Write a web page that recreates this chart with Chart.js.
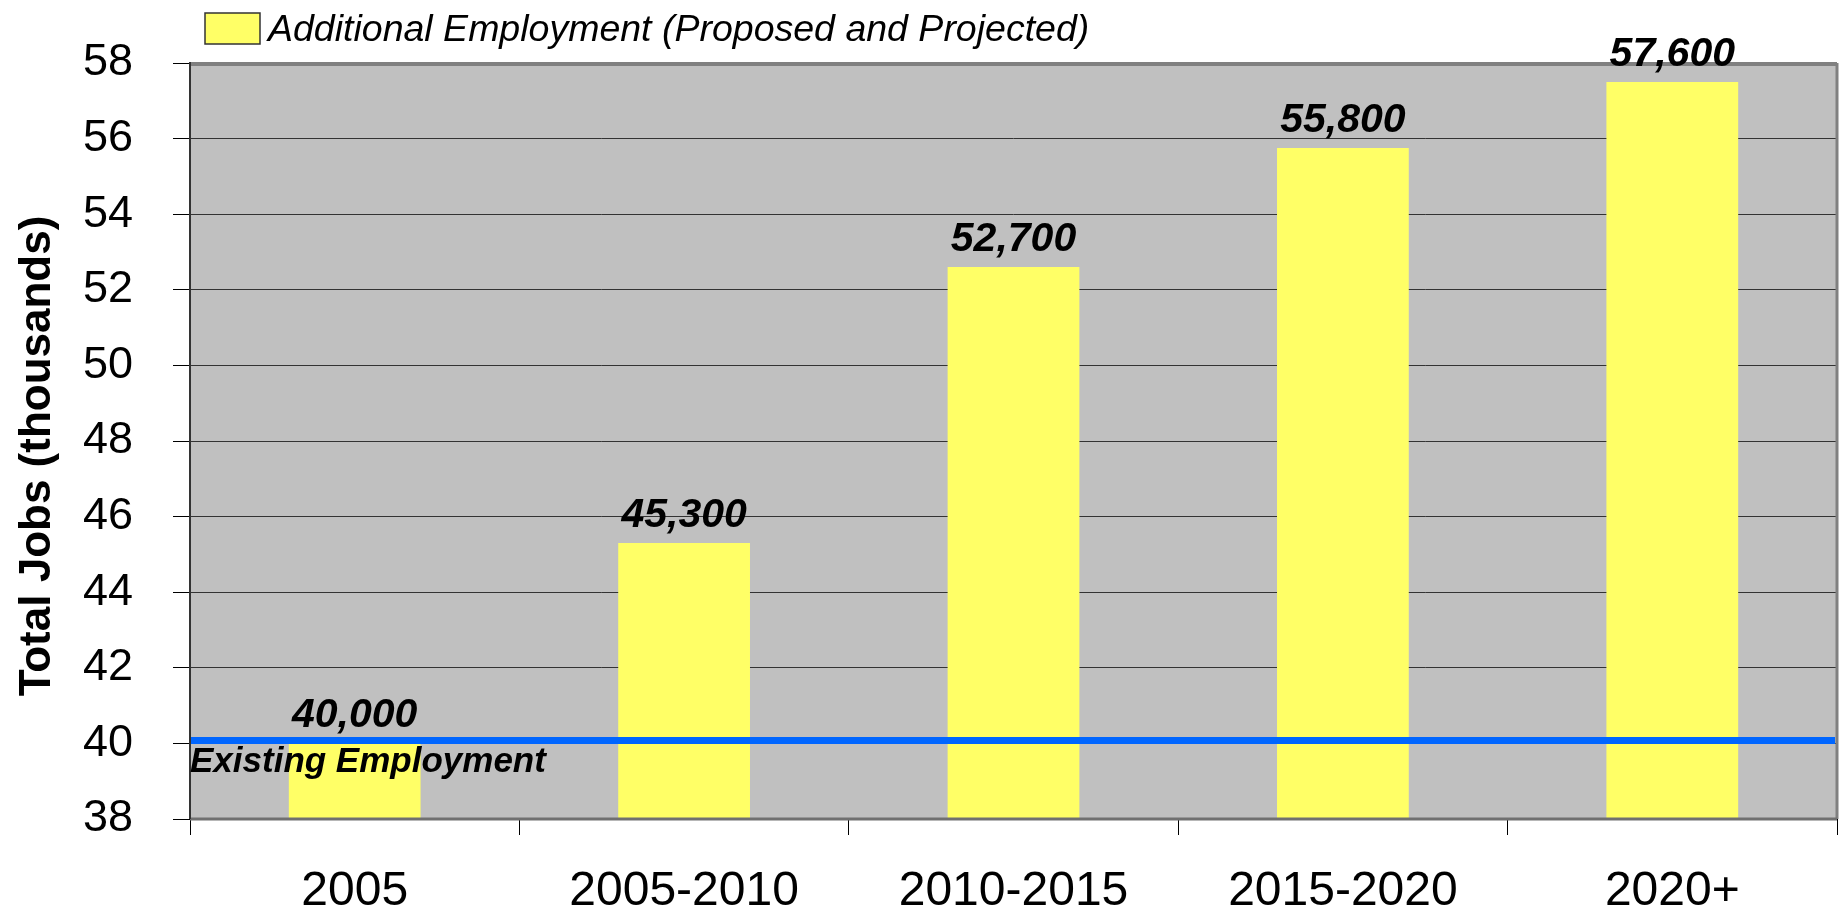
<!DOCTYPE html>
<html><head><meta charset="utf-8">
<script src="https://cdn.jsdelivr.net/npm/chart.js@4.4.1/dist/chart.umd.min.js"></script>
<style>html,body{margin:0;padding:0;background:#fff;overflow:hidden}#wrap{width:1844px;height:914px}</style>
</head><body><div id="wrap"><canvas id="c" width="1844" height="914"></canvas></div>
<script>
const categories = ['2005', '2005-2010', '2010-2015', '2015-2020', '2020+'];
const totalJobs = [40.0, 45.3, 52.6, 55.75, 57.5];
const valueLabels = ['40,000', '45,300', '52,700', '55,800', '57,600'];
const existingEmployment = 40;
const yMin = 38, yMax = 58, yStep = 2;
const seriesName = 'Additional Employment (Proposed and Projected)';
const existingName = 'Existing Employment';
const yTitle = 'Total Jobs (thousands)';

const FONT = "'Liberation Sans', Arial, sans-serif";

const decor = {
  id: 'decor',
  beforeDraw(chart) {
    const {ctx, chartArea: a} = chart;
    ctx.save();
    ctx.fillStyle = '#C0C0C0';
    ctx.fillRect(a.left, a.top, a.right - a.left, a.bottom - a.top);
    ctx.restore();
  },
  afterDatasetsDraw(chart) {
    const {ctx, chartArea: a, scales} = chart;
    const y = scales.y;
    ctx.save();
    const yl = y.getPixelForValue(existingEmployment) - 3;
    ctx.strokeStyle = '#0066FF';
    ctx.lineWidth = 7;
    ctx.beginPath(); ctx.moveTo(a.left, yl); ctx.lineTo(a.right - 2, yl); ctx.stroke();
    ctx.strokeStyle = '#808080';
    ctx.lineWidth = 4;
    ctx.beginPath(); ctx.moveTo(a.left, a.top + 1); ctx.lineTo(a.right, a.top + 1); ctx.stroke();
    ctx.lineWidth = 3;
    ctx.beginPath(); ctx.moveTo(a.right, a.top); ctx.lineTo(a.right, a.bottom); ctx.stroke();
    ctx.strokeStyle = '#707070';
    ctx.beginPath(); ctx.moveTo(a.left, a.bottom); ctx.lineTo(a.right, a.bottom); ctx.stroke();
    ctx.strokeStyle = '#333';
    ctx.lineWidth = 2;
    ctx.beginPath(); ctx.moveTo(a.left, a.top - 1); ctx.lineTo(a.left, a.bottom); ctx.stroke();
    ctx.fillStyle = '#000';
    ctx.font = "italic bold 41px " + FONT;
    ctx.textAlign = 'center';
    ctx.textBaseline = 'alphabetic';
    const meta = chart.getDatasetMeta(0);
    meta.data.forEach((bar, i) => {
      ctx.fillText(valueLabels[i], bar.x, y.getPixelForValue(totalJobs[i]) - 16);
    });
    ctx.font = "italic bold 35px " + FONT;
    ctx.textAlign = 'left';
    ctx.fillText(existingName, a.left, y.getPixelForValue(existingEmployment) + 29);
    ctx.restore();
  },
  afterDraw(chart) {
    const {ctx} = chart;
    ctx.save();
    ctx.fillStyle = chart.data.datasets[0].backgroundColor;
    ctx.fillRect(205, 13, 55, 31);
    ctx.strokeStyle = '#333';
    ctx.lineWidth = 1.5;
    ctx.strokeRect(205, 13, 55, 31);
    ctx.fillStyle = '#000';
    ctx.font = "italic 37.5px " + FONT;
    ctx.textAlign = 'left';
    ctx.textBaseline = 'alphabetic';
    ctx.fillText(chart.data.datasets[0].label, 268, 41);
    ctx.translate(50, 456);
    ctx.rotate(-Math.PI / 2);
    ctx.font = "bold 44px " + FONT;
    ctx.textAlign = 'center';
    ctx.fillText(yTitle, 0, 0);
    ctx.restore();
  }
};

new Chart(document.getElementById('c'), {
  type: 'bar',
  data: {
    labels: categories,
    datasets: [{
      label: seriesName,
      data: totalJobs,
      backgroundColor: '#FFFF66',
      borderWidth: 0,
      barPercentage: 0.4,
      categoryPercentage: 1.0
    }]
  },
  options: {
    responsive: false,
    animation: false,
    devicePixelRatio: 1,
    layout: {padding: {top: 63, right: 7, left: 0, bottom: 0}},
    plugins: {legend: {display: false}, tooltip: {enabled: false}},
    scales: {
      x: {
        grid: {display: true, drawOnChartArea: false, drawTicks: true, tickLength: 16, color: '#000', offset: true},
        border: {display: false},
        ticks: {font: {size: 48, family: FONT}, color: '#000', padding: 28, maxRotation: 0, autoSkip: false},
        afterFit(s) { s.height = 95; }
      },
      y: {
        min: yMin, max: yMax,
        ticks: {stepSize: yStep, font: {size: 45, family: FONT, lineHeight: 1}, color: '#000', padding: 40},
        grid: {color: '#333', lineWidth: 1, tickLength: 17, tickColor: '#000'},
        border: {display: false},
        afterFit(s) { s.width = 190; }
      }
    }
  },
  plugins: [decor]
});
</script></body></html>
